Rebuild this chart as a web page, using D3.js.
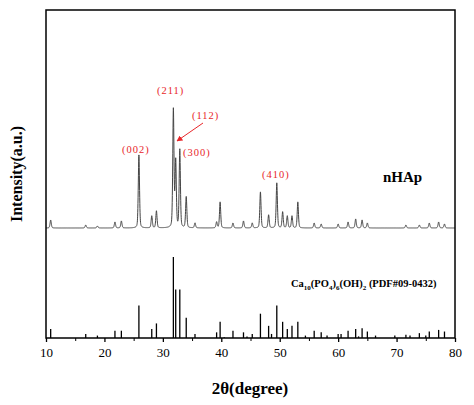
<!DOCTYPE html>
<html><head><meta charset="utf-8">
<script src="https://cdn.jsdelivr.net/npm/d3@7"></script>
<style>body{margin:0;background:#fff}text{font-family:"Liberation Serif","DejaVu Serif",serif}</style>
</head><body><svg id="chart" width="474" height="405"></svg>
<script>
// observed nHAp peaks: position (2θ) and height
const obsPos = [10.8,16.8,18.8,21.8,22.9,25.9,28.1,28.9,31.8,32.2,32.9,34.0,35.5,39.2,39.8,42.0,43.8,45.3,46.7,48.1,49.5,50.5,51.3,52.1,53.1,55.9,57.1,60.0,61.7,63.0,64.1,65.0,71.6,73.9,75.6,77.2,78.2];
const obsInt = [8,3,2,6,7,73,12,17,118,66,78,31,5,6,26,5,7,5,36,13,45,16,12,12,26,5,4,4,6,9,8,5,3,3,5,6,4];
// reference card PDF#09-0432
const refPos = [10.8,16.8,18.8,21.8,22.9,25.9,28.1,28.9,31.8,32.2,32.9,34.0,35.5,39.2,39.8,40.5,42.0,43.8,44.4,45.3,46.7,48.1,48.6,49.5,50.5,51.3,52.1,53.1,54.4,55.9,57.1,58.1,60.0,60.5,61.7,63.0,63.5,64.1,65.0,66.4,69.7,71.6,72.3,73.9,75.0,75.6,77.2,78.2];
const refInt = [11,5,3,9,9,40,11,18,100,60,60,25,5,7,20,1,9,7,2,5,30,15,5,40,20,11,15,20,3,9,7,3,5,5,9,11,2,12,8,3,3,4,3,6,3,8,10,8];
const xTicks = [10,20,30,40,50,60,70,80];
const hklText = ["(002)", "(211)", "(112)", "(300)", "(410)"];
const hklX = [122, 157, 192, 183, 262];
const hklY = [153, 94, 119, 156, 178];

const svg = d3.select("#chart");
const L = 46, R = 455, T = 10, B = 338;
const x = d3.scaleLinear().domain([10, 80]).range([L, R]);
const yObs = d3.scaleLinear().domain([0, 130]).range([228, 98]);
const yRef = d3.scaleLinear().domain([0, 100]).range([B, 257]);

// observed curve as sum of peak profiles
const w = 0.11;
const xs = d3.range(10, 80.001, 0.02);
const curve = xs.map(t => {
  let v = 0;
  obsPos.forEach((p, i) => { const d = (t - p) / w; v += obsInt[i] * (0.6 * Math.exp(-d * d / 2) + 0.4 / (1 + d * d)); });
  return [t, v];
});
svg.append("path").datum(curve)
  .attr("fill", "none").attr("stroke", "#444").attr("stroke-width", 1)
  .attr("d", d3.line().x(d => x(d[0])).y(d => yObs(d[1])));

// reference sticks
svg.append("g").selectAll("line").data(refPos).join("line")
  .attr("x1", d => x(d)).attr("x2", d => x(d))
  .attr("y1", B).attr("y2", (d, i) => yRef(refInt[i]))
  .attr("stroke", "#000").attr("stroke-width", 1.3);

// frame
svg.append("rect").attr("x", L).attr("y", T).attr("width", R - L).attr("height", B - T)
  .attr("fill", "none").attr("stroke", "#000").attr("stroke-width", 1.5);

const ax = svg.append("g").attr("transform", `translate(0,${B})`)
  .call(d3.axisBottom(x).tickValues(xTicks).tickSize(4).tickFormat(d3.format("d")));
ax.select(".domain").remove();
ax.selectAll("line").attr("stroke-width", 1.3);
ax.selectAll("text").attr("font-size", 13).attr("dy", "0.9em").attr("fill", "#000");
svg.append("g").attr("transform", `translate(0,${B})`)
  .call(d3.axisBottom(x).tickValues(d3.range(15, 80, 10)).tickSize(3).tickFormat(""))
  .call(g => g.select(".domain").remove());

svg.append("text").attr("x", 250).attr("y", 394).attr("text-anchor", "middle")
  .attr("font-size", 17).attr("font-weight", "bold").text("2θ(degree)");
svg.append("text").attr("transform", "translate(22,174) rotate(-90)").attr("text-anchor", "middle")
  .attr("font-size", 16).attr("font-weight", "bold").text("Intensity(a.u.)");

svg.append("text").attr("x", 383).attr("y", 182).attr("font-size", 15).attr("font-weight", "bold").text("nHAp");
const ca = svg.append("text").attr("x", 291).attr("y", 287).attr("font-size", 10.5).attr("font-weight", "bold");
ca.append("tspan").text("Ca");
ca.append("tspan").attr("font-size", 7).attr("dy", 3).text("10");
ca.append("tspan").attr("dy", -3).text("(PO");
ca.append("tspan").attr("font-size", 7).attr("dy", 3).text("4");
ca.append("tspan").attr("dy", -3).text(")");
ca.append("tspan").attr("font-size", 7).attr("dy", 3).text("6");
ca.append("tspan").attr("dy", -3).text("(OH)");
ca.append("tspan").attr("font-size", 7).attr("dy", 3).text("2");
ca.append("tspan").attr("dy", -3).text("  (PDF#09-0432)");

// hkl labels
svg.append("g").selectAll("text").data(hklText).join("text")
  .attr("x", (d, i) => hklX[i]).attr("y", (d, i) => hklY[i])
  .attr("font-size", 10.5).attr("fill", "#e8262a").attr("letter-spacing", 1).text(d => d);
svg.append("defs").append("marker").attr("id", "ah").attr("viewBox", "0 0 10 10")
  .attr("refX", 9).attr("refY", 5).attr("markerWidth", 6).attr("markerHeight", 6).attr("orient", "auto")
  .append("path").attr("d", "M0,0L10,5L0,10z").attr("fill", "#e8262a");
svg.append("line").attr("x1", 203).attr("y1", 123).attr("x2", 177).attr("y2", 141)
  .attr("stroke", "#e8262a").attr("stroke-width", 1).attr("marker-end", "url(#ah)");
</script></body></html>
